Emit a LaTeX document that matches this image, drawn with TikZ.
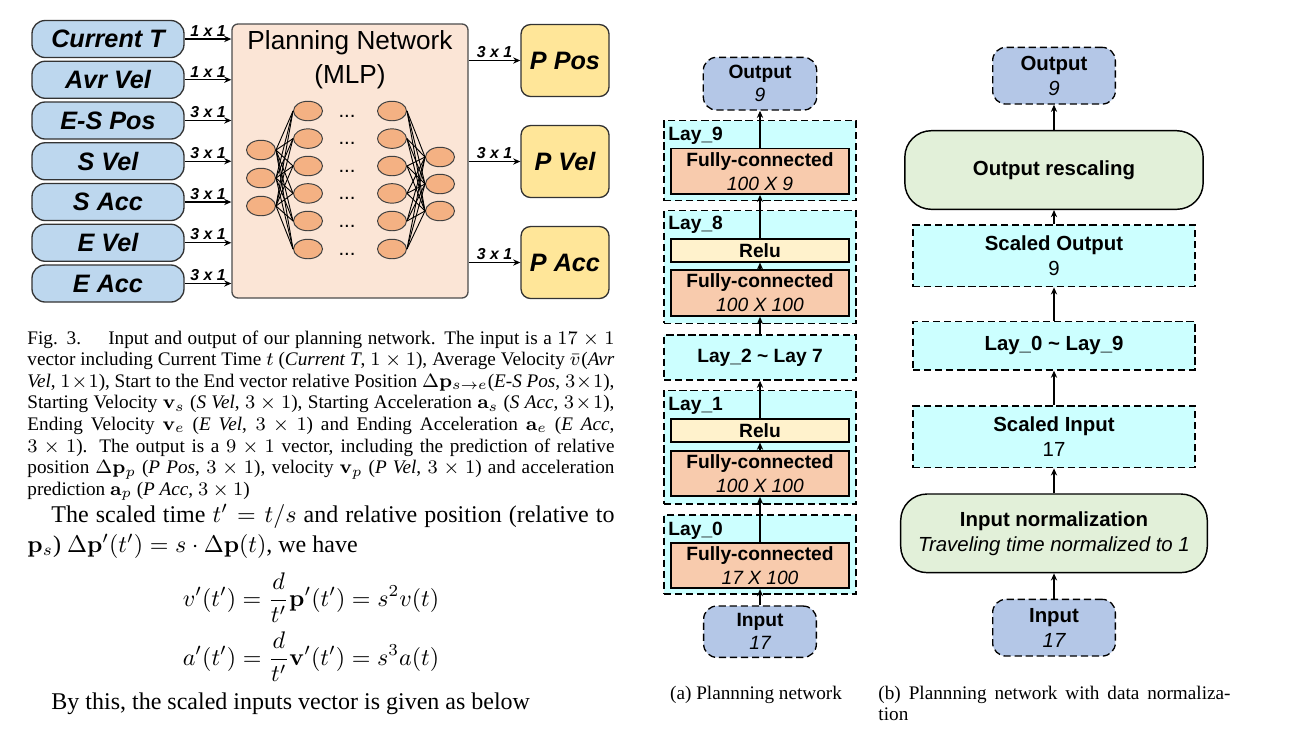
\documentclass[tikz,border=0pt]{standalone}
\usepackage[no-math]{fontspec}
\setmainfont{Liberation Serif}
\newfontfamily\arial{Liberation Sans}
\usetikzlibrary{arrows.meta,shapes.geometric}
\definecolor{inblue}{HTML}{BDD7EE}
\definecolor{mlpfill}{HTML}{FBE5D6}
\definecolor{neur}{HTML}{F4B183}
\definecolor{outgold}{HTML}{FFE699}
\definecolor{lav}{HTML}{B4C7E7}
\definecolor{cyanl}{HTML}{CCFFFF}
\definecolor{fcor}{HTML}{F8CBAD}
\definecolor{relu}{HTML}{FFF2CC}
\definecolor{greenl}{HTML}{E2F0D9}
\newcommand\pxu{0.4167pt}
\begin{document}
\begin{tikzpicture}[x=0.4167pt,y=-0.4167pt,
  inbox/.style={draw=black!80, line width=0.55pt, fill=inblue, rounded corners=5.5pt,
    minimum width=152*\pxu, minimum height=37*\pxu, inner sep=0,
    font=\arial\bfseries\itshape\fontsize{10.5}{12}\selectfont},
  outbox/.style={draw=black!80, line width=0.55pt, fill=outgold, rounded corners=4pt,
    minimum width=88*\pxu, minimum height=72*\pxu, inner sep=0,
    font=\arial\bfseries\itshape\fontsize{10.5}{12}\selectfont},
  arr/.style={-{Stealth[length=3pt,width=2.6pt]}, line width=0.6pt},
  sizelabel/.style={font=\arial\bfseries\itshape\fontsize{6.6}{7}\selectfont, inner sep=0.8pt, anchor=south},
  neuron/.style={ellipse, draw=black!75, fill=neur, line width=0.4pt,
    minimum width=29*\pxu, minimum height=19.5*\pxu, inner sep=0},
  conn/.style={line width=0.38pt},
  dotsl/.style={font=\arial\fontsize{8.5}{8.5}\selectfont, inner sep=0},
  laybox/.style={draw, dash pattern=on 3pt off 1.6pt, line width=0.55pt, fill=cyanl,
    minimum width=192*\pxu, inner sep=0},
  fcbox/.style={draw, fill=fcor, line width=0.7pt, minimum width=178.6*\pxu, inner sep=0,
    align=center, font=\arial\fontsize{8}{10}\selectfont},
  relubox/.style={draw, fill=relu, line width=0.7pt, minimum width=178.6*\pxu,
    minimum height=22.4*\pxu, inner sep=0, font=\arial\bfseries\fontsize{8}{10}\selectfont},
  term/.style={draw, dash pattern=on 3pt off 1.6pt, line width=0.55pt, fill=lav,
    rounded corners=5.5pt, inner sep=0, align=center},
  laylabel/.style={anchor=west, inner sep=0, font=\arial\bfseries\fontsize{8}{10}\selectfont},
  bbox/.style={draw, dash pattern=on 3pt off 1.6pt, line width=0.55pt, fill=cyanl,
    minimum width=281.7*\pxu, inner sep=0, align=center,
    font=\arial\fontsize{8.5}{10.4}\selectfont},
  gbox/.style={draw, line width=0.6pt, fill=greenl, rounded corners=11pt,
    inner sep=0, align=center, minimum height=78.6*\pxu,
    font=\arial\fontsize{8.5}{10.4}\selectfont}
]
\useasboundingbox (0,0) rectangle (1296,732);

% ---------------- left diagram ----------------
\node[draw=black!70, line width=0.55pt, fill=mlpfill, rounded corners=2.5pt,
  minimum width=236*\pxu, minimum height=274*\pxu, inner sep=0] (mlp) at (350,161) {};
\node[align=center, font=\arial\fontsize{10.9}{14}\selectfont, inner sep=0] (mlpt) at (350,60) {Planning Network\\(MLP)};

\node[inbox] (in1) at (108,39) {Current T};
\node[inbox] (in2) at (108,79.75) {Avr Vel};
\node[inbox] (in3) at (108,120.5) {E-S Pos};
\node[inbox] (in4) at (108,161.25) {S Vel};
\node[inbox] (in5) at (108,202) {S Acc};
\node[inbox] (in6) at (108,242.75) {E Vel};
\node[inbox] (in7) at (108,283.5) {E Acc};

\draw[arr] (in1.east) -- (in1.east -| mlp.west) node[midway, sizelabel] {1 x 1};
\draw[arr] (in2.east) -- (in2.east -| mlp.west) node[midway, sizelabel] {1 x 1};
\draw[arr] (in3.east) -- (in3.east -| mlp.west) node[midway, sizelabel] {3 x 1};
\draw[arr] (in4.east) -- (in4.east -| mlp.west) node[midway, sizelabel] {3 x 1};
\draw[arr] (in5.east) -- (in5.east -| mlp.west) node[midway, sizelabel] {3 x 1};
\draw[arr] (in6.east) -- (in6.east -| mlp.west) node[midway, sizelabel] {3 x 1};
\draw[arr] (in7.east) -- (in7.east -| mlp.west) node[midway, sizelabel] {3 x 1};

\node[outbox] (ppos) at (565,60.5) {P Pos};
\node[outbox] (pvel) at (565,161.5) {P Vel};
\node[outbox] (pacc) at (565,262.5) {P Acc};
\draw[arr] (mlp.east |- ppos.west) -- (ppos.west) node[midway, sizelabel] {3 x 1};
\draw[arr] (mlp.east |- pvel.west) -- (pvel.west) node[midway, sizelabel] {3 x 1};
\draw[arr] (mlp.east |- pacc.west) -- (pacc.west) node[midway, sizelabel] {3 x 1};

\foreach \y [count=\k] in {150,178,206} {\node[neuron] (a\k) at (261,\y) {};}
\foreach \y [count=\k] in {157,184,211} {\node[neuron] (d\k) at (440,\y) {};}
\foreach \y [count=\k] in {111,138.6,166,193.4,221,249} {
  \node[neuron] (b\k) at (308,\y) {};
  \node[neuron] (c\k) at (392,\y) {};
  \node[dotsl] (dt\k) at (347,\y+5) {...};
}
\foreach \i in {1,2,3} {\foreach \j in {1,...,6} {\draw[conn] (a\i.east) -- (b\j.west);}}
\foreach \i in {1,...,6} {\foreach \j in {1,2,3} {\draw[conn] (c\i.east) -- (d\j.west);}}

% ---------------- caption and text ----------------
\node[anchor=base west, inner sep=0] (cap) at (27,344) {\parbox[t]{244.6pt}{\fontsize{8}{9}\selectfont
\makebox[\linewidth][s]{Fig. 3.\hspace*{9pt} Input and output of our planning network. The input is a $17\times 1$}\\
\makebox[\linewidth][s]{vector including Current Time $t$ (\textit{Current T}, $1\times 1$), Average Velocity $\bar{v}$\kern0.4pt(\textit{Avr}}\\
\makebox[\linewidth][s]{\textit{Vel}, $1\!\times\!1$), Start to the End vector relative Position $\Delta\mathbf{p}_{s\rightarrow e}$(\textit{E-S Pos}, $3\!\times\!1$),}\\
\makebox[\linewidth][s]{Starting Velocity $\mathbf{v}_s$ (\textit{S Vel}, $3\times1$), Starting Acceleration $\mathbf{a}_s$ (\textit{S Acc}, $3\!\times\!1$),}\\
\makebox[\linewidth][s]{Ending Velocity $\mathbf{v}_e$ (\textit{E Vel}, $3\times 1$) and Ending Acceleration $\mathbf{a}_e$ (\textit{E Acc},}\\
\makebox[\linewidth][s]{$3\times 1$). The output is a $9\times 1$ vector, including the prediction of relative}\\
\makebox[\linewidth][s]{position $\Delta\mathbf{p}_p$ (\textit{P Pos}, $3\times 1$), velocity $\mathbf{v}_p$ (\textit{P Vel}, $3\times 1$) and acceleration}\\
prediction $\mathbf{a}_p$ (\textit{P Acc}, $3\times 1$)}};

\node[anchor=base west, inner sep=0] (body) at (27,522) {\parbox[t]{244.6pt}{\fontsize{10}{12.5}\selectfont
\makebox[\linewidth][s]{\hspace*{10pt}The scaled time $t'=t/s$ and relative position (relative to}\\
$\mathbf{p}_s$) $\Delta\mathbf{p}'(t') = s\cdot\Delta\mathbf{p}(t)$, we have}};
\node[inner sep=0, font=\fontsize{10.3}{12}\selectfont] (eq1) at (311,598) {$\displaystyle v'(t') = \frac{d}{t'}\mathbf{p}'(t') = s^2 v(t)$};
\node[inner sep=0, font=\fontsize{10.3}{12}\selectfont] (eq2) at (311,657) {$\displaystyle a'(t') = \frac{d}{t'}\mathbf{v}'(t') = s^3 a(t)$};
\node[anchor=base west, inner sep=0, font=\fontsize{10}{12}\selectfont] (bythis) at (51,709) {By this, the scaled inputs vector is given as below};

% ---------------- column (a) ----------------
\node[laybox, minimum height=80*\pxu] (L9) at (760,160.7) {};
\node[laybox, minimum height=112.6*\pxu] (L8) at (760,267) {};
\node[laybox, minimum height=45*\pxu, font=\arial\bfseries\fontsize{8}{10}\selectfont] (L27) at (760,357.5) {Lay\_2 \textasciitilde{} Lay 7};
\node[laybox, minimum height=113.3*\pxu] (L1) at (760,447.35) {};
\node[laybox, minimum height=79*\pxu] (L0) at (760,554.5) {};

\node[laylabel] (l9t) at (668,136) {Lay\_9};
\node[laylabel] (l8t) at (668,225) {Lay\_8};
\node[laylabel] (l1t) at (668,406) {Lay\_1};
\node[laylabel] (l0t) at (668,530.7) {Lay\_0};

\node[fcbox, minimum height=45.7*\pxu] (fc9) at (760,171.2) {{\bfseries Fully-connected}\\{\itshape 100 X 9}};
\node[relubox] (r8) at (760,250.5) {Relu};
\node[fcbox, minimum height=46*\pxu] (fc8) at (760,293) {{\bfseries Fully-connected}\\{\itshape 100 X 100}};
\node[relubox] (r1) at (760,430.5) {Relu};
\node[fcbox, minimum height=45.3*\pxu] (fc1) at (760,473.35) {{\bfseries Fully-connected}\\{\itshape 100 X 100}};
\node[fcbox, minimum height=45.6*\pxu] (fc0) at (760,565.5) {{\bfseries Fully-connected}\\{\itshape 17 X 100}};

\node[term, minimum width=113.4*\pxu, minimum height=52.7*\pxu, font=\arial\fontsize{8}{9.7}\selectfont] (outA) at (760,83.7) {{\bfseries Output}\\{\itshape 9}};
\node[term, minimum width=112.7*\pxu, minimum height=51.3*\pxu, font=\arial\fontsize{8}{9.7}\selectfont] (inA) at (760,631.7) {{\bfseries Input}\\{\itshape 17}};

\draw[arr] (inA) -- (fc0);
\draw[arr] (fc0) -- (fc1);
\draw[arr] (fc1) -- (r1);
\draw[arr] (r1) -- (L27);
\draw[arr] (L27) -- (fc8);
\draw[arr] (fc8) -- (r8);
\draw[arr] (r8) -- (fc9);
\draw[arr] (fc9) -- (outA);

\node[anchor=base, inner sep=0, font=\fontsize{8}{9}\selectfont] (capa) at (756,699) {(a) Plannning network};

% ---------------- column (b) ----------------
\node[term, minimum width=122.7*\pxu, minimum height=56.7*\pxu, font=\arial\fontsize{8.5}{10.4}\selectfont] (outB) at (1054,75.7) {{\bfseries Output}\\{\itshape 9}};
\node[gbox, minimum width=298.3*\pxu] (resc) at (1054,170) {\bfseries Output rescaling};
\node[bbox, minimum height=61.7*\pxu] (so) at (1054,255.8) {{\bfseries Scaled Output}\\9};
\node[bbox, minimum height=48.3*\pxu] (lay09) at (1054,345.8) {\bfseries Lay\_0 \textasciitilde{} Lay\_9};
\node[bbox, minimum height=61.7*\pxu] (si) at (1054,436.8) {{\bfseries Scaled Input}\\17};
\node[gbox, minimum width=306.6*\pxu] (norm) at (1054,533.3) {{\bfseries Input normalization}\\{\itshape Traveling time normalized to 1}};
\node[term, minimum width=122.7*\pxu, minimum height=56.7*\pxu, font=\arial\fontsize{8.5}{10.4}\selectfont] (inB) at (1054,627.7) {{\bfseries Input}\\{\itshape 17}};

\draw[arr] (inB) -- (norm);
\draw[arr] (norm) -- (si);
\draw[arr] (si) -- (lay09);
\draw[arr] (lay09) -- (so);
\draw[arr] (so) -- (resc);
\draw[arr] (resc) -- (outB);

\node[anchor=base west, inner sep=0] (capb) at (878,699) {\parbox[t]{146.7pt}{\fontsize{8}{9}\selectfont
\makebox[\linewidth][s]{(b) Plannning network with data normaliza-}\\tion}};
\end{tikzpicture}
\end{document}
